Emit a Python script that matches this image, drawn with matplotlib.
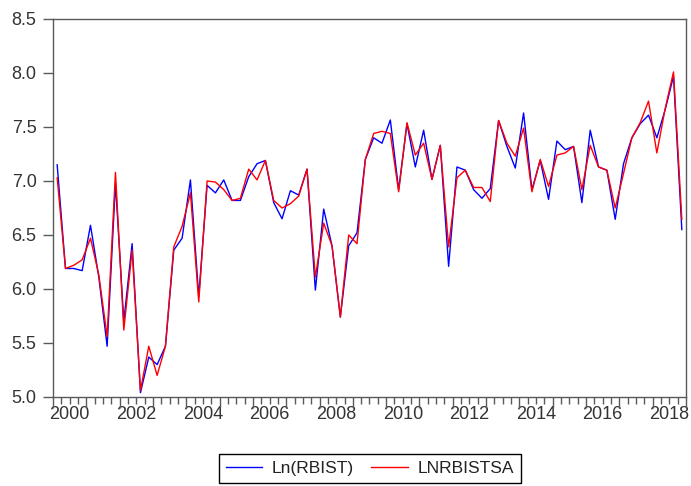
import matplotlib
matplotlib.use("Agg")
import matplotlib.pyplot as plt
from matplotlib.ticker import FixedLocator, NullFormatter

plt.rcParams['font.family'] = ['Liberation Sans', 'DejaVu Sans']

# Quarterly observations 2000Q1 .. 2018Q4
years = list(range(2000, 2019))
periods = [f"{y}Q{q}" for y in years for q in range(1, 5)]

ln_rbist = [7.15, 6.19, 6.19, 6.17, 6.59, 6.11, 5.47, 6.98,
            5.70, 6.42, 5.04, 5.37, 5.30, 5.47, 6.36, 6.47,
            7.01, 5.93, 6.96, 6.89, 7.01, 6.82, 6.82, 7.04,
            7.16, 7.19, 6.80, 6.65, 6.91, 6.87, 7.11, 5.99,
            6.74, 6.40, 5.74, 6.40, 6.52, 7.20, 7.40, 7.35,
            7.565, 6.92, 7.53, 7.13, 7.47, 7.015, 7.33, 6.21,
            7.13, 7.10, 6.92, 6.84, 6.93, 7.56, 7.32, 7.12,
            7.63, 6.92, 7.19, 6.83, 7.37, 7.29, 7.32, 6.80,
            7.47, 7.13, 7.10, 6.645, 7.16, 7.40, 7.53, 7.61,
            7.40, 7.66, 7.97, 6.55]

lnrbistsa = [7.03, 6.19, 6.22, 6.27, 6.47, 6.13, 5.56, 7.08,
             5.62, 6.36, 5.06, 5.47, 5.20, 5.47, 6.39, 6.58,
             6.89, 5.88, 7.00, 6.99, 6.92, 6.82, 6.84, 7.11,
             7.01, 7.19, 6.82, 6.75, 6.79, 6.86, 7.11, 6.11,
             6.61, 6.40, 5.74, 6.50, 6.42, 7.20, 7.44, 7.46,
             7.44, 6.90, 7.54, 7.24, 7.35, 7.015, 7.33, 6.39,
             7.03, 7.10, 6.94, 6.94, 6.81, 7.56, 7.35, 7.23,
             7.49, 6.90, 7.20, 6.95, 7.24, 7.26, 7.32, 6.92,
             7.33, 7.13, 7.10, 6.75, 7.07, 7.40, 7.54, 7.74,
             7.26, 7.67, 8.01, 6.645]

year_labels = [str(y) for y in years[::2]]
y_ticks = [5.0, 5.5, 6.0, 6.5, 7.0, 7.5, 8.0, 8.5]

fig = plt.figure(figsize=(6.91, 4.86), dpi=100)
ax = fig.add_axes([53/691, 1 - 397/486, (686 - 53)/691, (397 - 19)/486])

x = list(range(len(periods)))
l1, = ax.plot(x, ln_rbist, color='#0000ff', lw=1.0, label='Ln(RBIST)')
l2, = ax.plot(x, lnrbistsa, color='#ff0000', lw=1.0, label='LNRBISTSA')

n = len(periods)
ax.set_xlim(-0.5, n - 0.5)
ax.set_ylim(5.0, 8.5)

spine_c = '#5a5a5a'
for s in ax.spines.values():
    s.set_color(spine_c)
    s.set_linewidth(1.0)

# year boundary ticks (major) and quarter boundary ticks (minor)
ax.xaxis.set_major_locator(FixedLocator([-0.5 + 4 * k for k in range(len(years) + 1)]))
ax.xaxis.set_minor_locator(FixedLocator([-0.5 + k for k in range(n + 1)]))
ax.xaxis.set_major_formatter(NullFormatter())
ax.tick_params(axis='x', which='major', direction='out', length=8, width=1, color=spine_c)
ax.tick_params(axis='x', which='minor', direction='out', length=5, width=1, color=spine_c)

ax.set_yticks(y_ticks)
ax.set_yticklabels([f"{v:.1f}" for v in y_ticks])
ax.tick_params(axis='y', direction='out', length=7.5, width=1, color=spine_c,
               labelsize=13, labelcolor='#333333', pad=4.3)

# year labels centred on each labelled year
sec = ax.secondary_xaxis('bottom')
centers = [years.index(int(lbl)) * 4 + 1.5 for lbl in year_labels]
sec.set_xticks(centers)
sec.set_xticklabels(year_labels)
sec.tick_params(length=0, pad=6.7, labelsize=13, labelcolor='#333333')
sec.spines['bottom'].set_visible(False)

leg = fig.legend(handles=[l1, l2], loc='center', ncol=2,
                 bbox_to_anchor=(369.7/691, 1 - 468.7/486), bbox_transform=fig.transFigure,
                 fontsize=12.5, frameon=True, fancybox=False, framealpha=1,
                 edgecolor='#000000', handlelength=2.1, handletextpad=0.55,
                 columnspacing=1.0, borderpad=0.4)
leg.get_frame().set_linewidth(1.0)
for t in leg.get_texts():
    t.set_color('#222222')

fig.savefig('out.png', dpi=100)
